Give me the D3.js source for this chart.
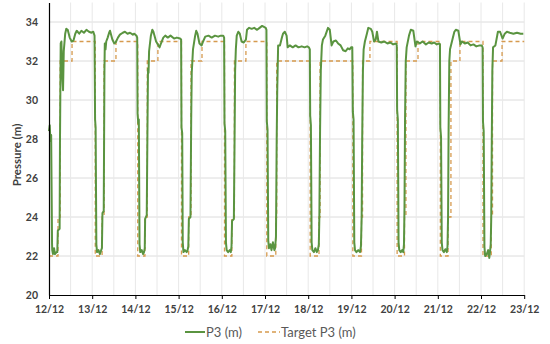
<!DOCTYPE html>
<html>
<head>
<meta charset="utf-8">
<script src="https://cdn.jsdelivr.net/npm/d3@7/dist/d3.min.js"></script>
<style>
  html, body { margin: 0; padding: 0; background: #ffffff; }
  svg { display: block; }
</style>
</head>
<body>
<svg id="chart" width="550" height="344"></svg>
<script>
// ---- Data (hours since 12/12 00:00) ----
const xTickLabels = ["12/12","13/12","14/12","15/12","16/12","17/12","18/12","19/12","20/12","21/12","22/12","23/12"];
const yTicks = [20, 22, 24, 26, 28, 30, 32, 34];
const seriesNames = ["P3 (m)", "Target P3 (m)"];

const p3Hours = [
  0,0.4,0.8,1.2,1.7,1.8,2.2,2.8,3.3,4.2,4.6,4.9,5.9,6.1,6.5,6.9,7.4,7.8,8.2,9.0,9.6,10.4,11.5,12.6,13.6,14.6,15.4,16.8,18,19.4,20.8,22.2,23.6,
  24.6,25.3,25.6,25.9,26.3,26.7,27.5,28.3,29.0,29.4,29.7,30.4,30.8,31.0,31.4,31.8,32.6,33.4,33.9,35.2,36.3,37.0,38.3,39.4,41.0,42.2,43.6,45.0,46.6,47.4,
  48.6,49.0,49.2,49.6,49.9,50.3,50.7,51.5,52.3,52.8,53.2,53.4,54.3,54.7,55.0,55.3,55.6,56.6,57.4,58.0,59.5,61.4,62.0,63.5,64.6,66.0,67.5,69.5,71.0,
  72.8,73.4,73.6,74.0,74.3,74.7,75.5,76.5,77.0,77.4,77.7,78.6,79.0,79.3,79.6,80.0,81.2,81.8,82.5,83.6,84.8,85.6,86.8,88.6,90.4,92.2,94.0,95.4,
  96.8,97.3,97.5,97.9,98.3,98.7,99.5,100.4,101.0,101.4,101.7,102.7,103.1,103.4,103.8,104.3,105.2,106.0,107.0,108.2,109.4,110.0,111.2,112.6,114.0,115.6,117.0,118.4,119.4,
  120.4,120.8,121.0,121.4,121.8,122.2,123.0,123.6,124.4,125.2,125.6,126.1,126.5,126.8,127.3,128.3,129.4,130.0,131.0,132.0,132.6,133.8,135.4,137.0,138.6,140.4,142.0,143.4,
  144.4,144.9,145.1,145.5,145.9,146.3,147.2,148.0,148.8,149.4,149.9,150.2,150.6,151.0,151.6,152.2,153.5,155.0,156.0,157.0,158.0,159.4,160.6,162.0,163.4,164.8,166.0,167.0,167.8,
  168.5,168.8,169.2,169.6,170.0,170.8,171.8,172.8,173.3,173.7,174.0,174.4,174.8,175.5,176.6,177.4,178.8,179.6,180.6,181.5,182.2,183.0,184.6,186.2,188.0,189.6,191.2,
  192.8,193.2,193.4,193.8,194.2,194.6,195.4,196.2,196.8,197.2,197.5,197.8,198.2,198.7,200.0,201.0,202.4,203.6,204.4,206.0,207.6,209.4,211.0,212.6,214.0,215.4,
  216.8,217.2,217.4,217.8,218.2,218.6,219.4,220.2,221.0,221.4,221.7,222.0,222.4,222.8,224.4,225.2,226.0,227.4,228.6,229.4,231.0,232.6,234.2,235.8,237.4,239.2,
  240.4,240.9,241.1,241.5,241.9,242.3,243.2,244.0,244.6,245.0,245.4,245.7,246.0,246.3,246.7,248.0,249.4,250.6,252.0,253.2,254.4,256.0,258.0,260.0,262.0,263.5
];
const p3Values = [
  28.4,28.7,27.9,28.2,22.6,22.3,22.1,22.4,22.1,22.2,22.2,23.3,23.4,27.8,32.9,33.0,31.2,30.5,32.5,33.4,33.65,33.6,33.2,33.0,33.05,33.4,33.55,33.4,33.55,33.45,33.6,33.5,33.45,
  33.5,33.3,29.0,28.6,22.6,22.2,22.3,22.1,22.3,22.4,24.2,24.3,31.5,32.9,32.6,33.0,33.2,33.45,33.55,33.1,32.9,32.95,33.2,33.35,33.45,33.5,33.4,33.45,33.35,33.4,
  33.3,33.2,29.3,28.8,29.0,22.6,22.2,22.3,22.1,22.2,22.4,23.9,24.1,28.5,31.6,31.4,32.5,33.3,33.6,33.5,33.0,32.7,32.85,33.2,33.3,33.2,33.3,33.15,33.2,
  33.15,33.1,28.6,28.3,22.7,22.2,22.3,22.2,22.3,22.5,23.9,24.0,29.0,31.4,31.9,32.6,33.3,33.55,33.4,32.9,32.8,33.0,33.25,33.3,33.2,33.3,33.25,33.3,
  33.3,33.2,28.8,28.4,22.7,22.3,22.2,22.3,22.2,22.5,23.8,23.9,28.0,31.5,32.6,33.3,33.5,33.4,33.0,32.95,33.1,33.6,33.7,33.65,33.7,33.6,33.7,33.8,33.75,
  33.7,33.6,28.9,28.5,22.8,22.4,22.6,22.3,22.7,22.3,22.4,23.0,28.0,30.5,32.8,32.8,33.2,33.4,33.5,33.3,32.7,32.8,32.7,32.8,32.7,32.75,32.7,32.75,
  32.7,32.6,29.2,28.7,22.7,22.3,22.2,22.4,22.2,22.3,22.6,24.0,28.5,31.5,32.8,33.1,33.3,33.7,33.6,32.8,33.0,33.05,32.9,32.8,32.55,32.5,32.65,32.6,32.7,
  32.7,29.4,29.0,22.7,22.3,22.2,22.3,22.2,22.5,24.0,28.0,31.5,32.6,33.0,33.4,33.7,33.65,33.5,33.0,33.1,33.5,33.0,32.95,33.0,32.9,32.95,32.85,
  32.9,32.8,29.5,29.0,22.7,22.3,22.2,22.3,22.2,22.6,24.5,29.0,32.0,32.7,33.3,33.6,33.55,32.75,33.0,32.9,33.0,32.85,32.95,32.9,32.95,32.85,
  32.9,32.85,28.6,28.1,22.7,22.3,22.2,22.35,22.2,22.5,24.0,28.5,32.0,32.6,33.2,33.5,33.6,33.55,32.85,33.0,32.9,32.95,32.8,32.85,32.75,32.8,
  32.8,32.7,28.9,28.4,22.5,22.0,22.1,22.3,21.9,22.2,22.6,24.0,28.0,31.5,32.7,32.8,33.5,33.5,33.15,33.4,33.5,33.45,33.4,33.45,33.4,33.4
];

const targetHours = [
  0,5.0,5.0,6.2,6.2,12.8,12.8,25.7,25.7,
  29.5,29.5,30.6,30.6,37.2,37.2,49.3,49.3,
  53.3,53.3,54.6,54.6,60.5,60.5,73.6,73.6,
  77.6,77.6,78.9,78.9,85.0,85.0,97.5,97.5,
  101.6,101.6,103.0,103.0,109.4,109.4,121.0,121.0,
  126.0,126.0,126.5,126.5,145.1,145.1,
  150.0,150.0,150.6,150.6,168.8,168.8,
  173.6,173.6,174.2,174.2,178.3,178.3,193.4,193.4,
  197.5,197.5,198.3,198.3,205.0,205.0,217.4,217.4,
  221.7,221.7,223.3,223.3,228.3,228.3,241.1,241.1,
  245.7,245.7,246.4,246.4,251.7,251.7,264
];
const targetValues = [
  22,22,24,24,32,32,33,33,22,
  22,24,24,32,32,33,33,22,
  22,24,24,32,32,33,33,22,
  22,24,24,32,32,33,33,22,
  22,24,24,32,32,33,33,22,
  22,24,24,32,32,22,
  22,24,24,32,32,22,
  22,24,24,32,32,33,33,22,
  22,24,24,32,32,33,33,22,
  22,24,24,32,32,33,33,22,
  22,24,24,32,32,33,33
];

// ---- Layout ----
const W = 550, H = 344;
const margin = {left: 49, right: 25.8, top: 2.5, bottom: 49};
const svg = d3.select("#chart");
const x = d3.scaleLinear().domain([0, 264]).range([margin.left, W - margin.right]);
const y = d3.scaleLinear().domain([20, 35]).range([H - margin.bottom, margin.top]);

const p3 = p3Hours.map((h, i) => ({h, v: p3Values[i]}));
const tgt = targetHours.map((h, i) => ({h, v: targetValues[i]}));

// gridlines
const gridY = yTicks.filter(t => t > 20);
svg.append("g").selectAll("line").data(gridY).join("line")
  .attr("x1", margin.left).attr("x2", W - margin.right)
  .attr("y1", d => y(d)).attr("y2", d => y(d))
  .attr("stroke", "#dcdcdc").attr("stroke-width", 1);
const gridX = d3.range(12, 265, 12);
svg.append("g").selectAll("line").data(gridX).join("line")
  .attr("x1", d => x(d)).attr("x2", d => x(d))
  .attr("y1", margin.top).attr("y2", H - margin.bottom)
  .attr("stroke", "#e8e8e8").attr("stroke-width", 1);

// lines (target underneath, measured P3 on top)
const line = d3.line().x(d => x(d.h)).y(d => y(d.v));
svg.append("path").datum(tgt).attr("d", line)
  .attr("fill", "none").attr("stroke", "#d69a4e").attr("stroke-width", 1.3)
  .attr("stroke-dasharray", "4,3");
svg.append("path").datum(p3).attr("d", line)
  .attr("fill", "none").attr("stroke", "#5a9440").attr("stroke-width", 2)
  .attr("stroke-linejoin", "round");

// axes
const xAxis = d3.axisBottom(x)
  .tickValues(d3.range(0, 265, 24))
  .tickFormat((d, i) => xTickLabels[i])
  .tickSize(4).tickPadding(7).tickSizeOuter(0);
const gx = svg.append("g").attr("transform", `translate(0,${H - margin.bottom})`).call(xAxis);
gx.select(".domain").attr("stroke", "#000").attr("stroke-width", 1.2);
gx.selectAll(".tick line").attr("stroke", "#000");
gx.selectAll("text").attr("font-family", "Lato, 'Open Sans', sans-serif")
  .attr("font-weight", "bold").attr("font-size", "10.5px").attr("fill", "#404040");

const yAxis = d3.axisLeft(y).tickValues(yTicks).tickSize(0).tickPadding(11);
const gy = svg.append("g").attr("transform", `translate(${margin.left},0)`).call(yAxis);
gy.select(".domain").attr("stroke", "#000").attr("stroke-width", 1.2);
gy.selectAll("text").attr("font-family", "Lato, 'Open Sans', sans-serif")
  .attr("font-weight", "bold").attr("font-size", "10.5px").attr("fill", "#404040");

// y title
svg.append("text")
  .attr("transform", "translate(21,155) rotate(-90)")
  .attr("text-anchor", "middle")
  .attr("font-family", "Lato, 'Open Sans', sans-serif")
  .attr("font-weight", "bold").attr("font-size", "11.5px").attr("fill", "#404040")
  .text("Pressure (m)");

// legend
const lg = svg.append("g");
lg.append("line").attr("x1", 185).attr("x2", 205).attr("y1", 332).attr("y2", 332)
  .attr("stroke", "#5a9440").attr("stroke-width", 2);
lg.append("text").attr("x", 206).attr("y", 336.5)
  .attr("font-family", "Lato, 'Open Sans', sans-serif").attr("font-size", "13px").attr("fill", "#595959")
  .text(seriesNames[0]);
lg.append("line").attr("x1", 258).attr("x2", 280).attr("y1", 332).attr("y2", 332)
  .attr("stroke", "#d69a4e").attr("stroke-width", 1.3).attr("stroke-dasharray", "4,3");
lg.append("text").attr("x", 281).attr("y", 336.5)
  .attr("font-family", "Lato, 'Open Sans', sans-serif").attr("font-size", "13px").attr("fill", "#595959")
  .text(seriesNames[1]);
</script>
</body>
</html>
